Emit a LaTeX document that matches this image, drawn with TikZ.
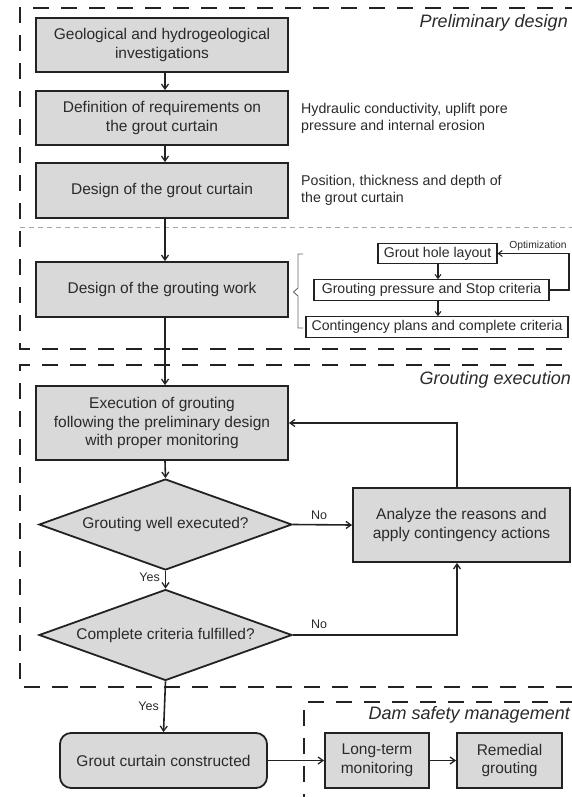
\documentclass[tikz,border=0pt]{standalone}
\usepackage{fontspec}
\setmainfont{Liberation Sans}
\usetikzlibrary{shapes.geometric,arrows.meta}
\definecolor{boxgray}{HTML}{D9D9D9}
\definecolor{txtgray}{HTML}{2A2A2A}
\definecolor{linegray}{HTML}{222222}
\begin{document}
\begin{tikzpicture}[x=1pt,y=-1pt,
  box/.style={draw=linegray, line width=1.8pt, fill=boxgray, text=txtgray, align=center,
    font=\fontsize{15.5}{18.5}\selectfont, inner sep=0pt},
  dia/.style={diamond, aspect=2.78, draw=linegray, line width=1.8pt, fill=boxgray, text=txtgray, align=center,
    font=\fontsize{15.5}{18.5}\selectfont, inner sep=0pt},
  subbox/.style={draw=linegray, line width=1.1pt, fill=white, text=txtgray, align=center,
    font=\fontsize{14.1}{16}\selectfont, inner sep=0pt, minimum height=20.5pt},
  sidetext/.style={text=txtgray, align=left, anchor=west, inner sep=0pt,
    font=\fontsize{14.2}{17}\selectfont},
  title/.style={text=txtgray, anchor=east, inner sep=0pt, font=\fontsize{18}{20}\selectfont\itshape},
  lab/.style={text=txtgray, inner sep=0pt, font=\fontsize{12.5}{14}\selectfont},
  frame/.style={draw=linegray, line width=2.8pt, dash pattern=on 16pt off 12pt},
  conn/.style={draw=linegray, line width=1.6pt, -{Straight Barb[length=5pt,width=7pt,line width=1.3pt]}},
  thinconn/.style={draw=linegray, line width=1.1pt, -{Straight Barb[length=4pt,width=6pt,line width=1pt]}}
]
\useasboundingbox (0,0) rectangle (572,797);
\clip (0,0) rectangle (572,797);

% frames
\draw[frame] (590,349) -- (20,349) -- (20,8) -- (590,8);
\draw[frame] (590,365) -- (20,365) -- (20,687) -- (590,687);
\draw[frame] (304,810) -- (304,702) -- (590,702);
\draw[gray!70, line width=0.8pt, dash pattern=on 5pt off 4pt] (20,227) -- (572,227);

% titles
\node[title] (t1) at (568,23) {Preliminary design};
\node[title] (t2) at (571,380) {Grouting execution};
\node[title] (t3) at (570,715) {Dam safety management};

% main boxes
\node[box, minimum width=252pt, minimum height=54pt] (b1) at (162,45) {Geological and hydrogeological\\investigations};
\node[box, minimum width=252pt, minimum height=54pt] (b2) at (162,118) {Definition of requirements on\\the grout curtain};
\node[box, minimum width=252pt, minimum height=55pt] (b3) at (162,190.5) {Design of the grout curtain};
\node[box, minimum width=252pt, minimum height=55pt] (b4) at (162,289.5) {Design of the grouting work};
\node[box, minimum width=252pt, minimum height=74pt] (ex) at (162,423) {Execution of grouting\\following the preliminary design\\with proper monitoring};
\node[dia, minimum width=253pt, minimum height=91pt] (d1) at (165.5,524.5) {Grouting well executed?};
\node[dia, minimum width=253pt, minimum height=91pt] (d2) at (165.5,635) {Complete criteria fulfilled?};
\node[box, minimum width=217pt, minimum height=74pt] (an) at (461.5,525) {Analyze the reasons and\\apply contingency actions};
\node[box, rounded corners=11pt, minimum width=207pt, minimum height=55pt] (gc) at (163.5,760.5) {Grout curtain constructed};
\node[box, minimum width=104pt, minimum height=55pt] (lt) at (377,760.5) {Long-term\\monitoring};
\node[box, minimum width=105pt, minimum height=55pt] (rg) at (509.5,760.5) {Remedial\\grouting};

% side texts
\node[sidetext] (s1) at (301,118.5) {Hydraulic conductivity, uplift pore\\pressure and internal erosion};
\node[sidetext] (s2) at (301,190) {Position, thickness and depth of\\the grout curtain};

% sub boxes
\node[subbox, minimum width=119pt] (g1) at (437.5,253.5) {Grout hole layout};
\node[subbox, minimum width=235pt] (g2) at (431.5,290) {Grouting pressure and Stop criteria};
\node[subbox, minimum width=262pt] (g3) at (437,327) {Contingency plans and complete criteria};
\node[text=txtgray, inner sep=0pt, font=\fontsize{10.3}{12}\selectfont] (opt) at (538,246) {Optimization};

% brace
\draw[gray!80!black, line width=0.9pt] (303,254) -- (298,254) -- (298,288) -- (293.5,292) -- (298,296) -- (298,328) -- (303,328);

% connectors
\draw[conn] ([xshift=3pt]b1.south) -- ([xshift=3pt]b2.north);
\draw[conn] ([xshift=3pt]b2.south) -- ([xshift=3pt]b3.north);
\draw[conn] ([xshift=3pt]b3.south) -- ([xshift=3pt]b4.north);
\draw[conn] ([xshift=3pt]b4.south) -- ([xshift=3pt]ex.north);
\draw[conn] ([xshift=3pt]ex.south) -- (d1.north);
\draw[conn] (d1.south) -- (d2.north);
\draw[conn] (d1.east) -- (an.west);
\draw[conn] (d2.east) -| ([xshift=-4.5pt]an.south);
\draw[conn] ([xshift=-4.5pt]an.north) |- (ex.east);
\draw[conn] (d2.south) -- (gc.north);
\draw[conn] (gc.east) -- (lt.west);
\draw[conn] (lt.east) -- (rg.west);

\draw[thinconn] (g1.south -| 438,0) -- (g2.north -| 438,0);
\draw[thinconn] (g2.south -| 438,0) -- (g3.north -| 438,0);
\coordinate (oc) at (569,0);
\draw[thinconn] (g2.east) -- (g2.east -| oc) |- (g1.east);

% labels
\node[lab, anchor=east] (y1) at (160,577) {Yes};
\node[lab, anchor=east] (y2) at (159,706) {Yes};
\node[lab] (n1) at (319,515) {No};
\node[lab] (n2) at (319,624) {No};
\end{tikzpicture}
\end{document}
